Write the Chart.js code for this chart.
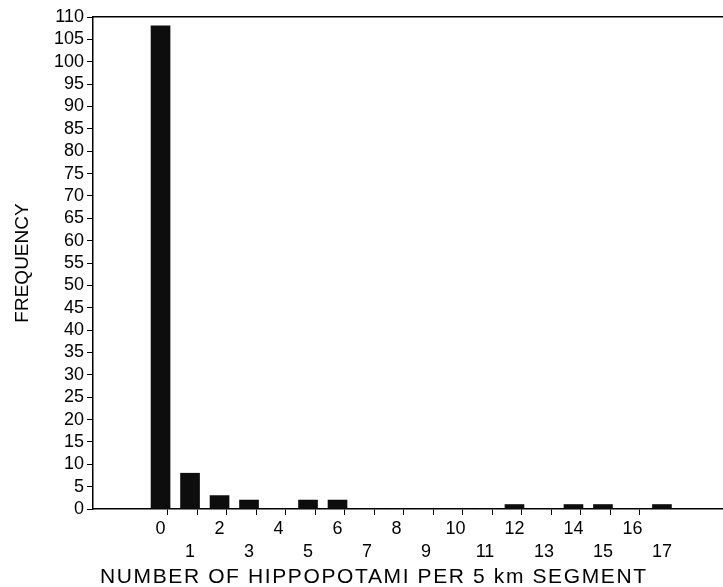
<!DOCTYPE html>
<html>
<head>
<meta charset="utf-8">
<script src="https://cdn.jsdelivr.net/npm/chart.js@4.4.0/dist/chart.umd.min.js"></script>
<style>
  html, body { margin: 0; padding: 0; background: #fff; }
  #wrap { width: 723px; height: 587px; }
</style>
</head>
<body>
<div id="wrap"><canvas id="myChart" width="723" height="587"></canvas></div>
<script>
var counts = [0, 1, 2, 3, 4, 5, 6, 7, 8, 9, 10, 11, 12, 13, 14, 15, 16, 17]
var frequency = [108, 8, 3, 2, 0, 2, 2, 0, 0, 0, 0, 0, 1, 0, 1, 1, 0, 1]
var yTicks = [0, 5, 10, 15, 20, 25, 30, 35, 40, 45, 50, 55, 60, 65, 70, 75, 80, 85, 90, 95, 100, 105, 110]
var xTitle = 'NUMBER OF HIPPOPOTAMI PER 5 km SEGMENT'
var yTitle = 'FREQUENCY'

var fontFam = "'Liberation Sans', Arial, sans-serif"

var points = counts.map(function(c, i){ return {x: c, y: frequency[i]} })

// x axis title drawn a bit wider than the plain font, like the original print
var xTitlePlugin = {
    id: 'xTitle',
    afterDraw: function(chart){
        var c = chart.ctx
        c.save()
        c.font = '21px ' + fontFam
        c.fillStyle = '#000'
        c.textBaseline = 'alphabetic'
        c.textAlign = 'left'
        var w0 = c.measureText(xTitle).width
        var sp = (546 - w0) / (xTitle.length - 1)
        if ('letterSpacing' in c) c.letterSpacing = sp + 'px'
        c.fillText(xTitle, 100, 583)
        c.restore()
    }
}

function setChart(){
    var ctx = document.getElementById('myChart');
    var myChart = new Chart(ctx, {
    type: 'bar',
    data: {
        datasets: [{
            data: points,
            backgroundColor: '#0d0d0d',
            borderWidth: 0,
            barThickness: 19,
        }],
    },
    plugins: [xTitlePlugin],
    options: {
        responsive: false,
        animation: false,
        layout: { padding: { top: 17, right: 0, left: 0, bottom: 0 } },
        plugins: {
            legend: { display: false },
            tooltip: { enabled: false },
        },
        scales: {
            x: {
                type: 'linear',
                offset: false,
                min: -2.29,
                max: 19.07,
                afterBuildTicks: function(scale){
                    var t = []
                    counts.forEach(function(c){
                        t.push({value: c})
                        if (c < 17) t.push({value: c + 0.5})
                    })
                    scale.ticks = t
                },
                afterFit: function(scale){ scale.height = 78 },
                ticks: {
                    autoSkip: false,
                    maxRotation: 0,
                    minRotation: 0,
                    padding: 2,
                    color: '#000',
                    font: { family: fontFam, size: 18, lineHeight: 1.3 },
                    callback: function(v){
                        if (v % 1 !== 0) return ''
                        return v % 2 === 0 ? [String(v)] : ['', String(v)]
                    }
                },
                grid: {
                    drawOnChartArea: false,
                    tickLength: 6,
                    color: function(c){
                        return (c.tick && c.tick.value % 1 !== 0) ? '#000' : 'rgba(0,0,0,0)'
                    },
                },
                border: { display: true, color: '#000', width: 1.5 },
                title: { display: false },
            },
            x2: {
                type: 'linear',
                position: 'top',
                offset: false,
                min: -2.29,
                max: 19.07,
                ticks: { display: false },
                grid: { display: false },
                border: { display: true, color: '#000', width: 1.5 },
                afterFit: function(scale){ scale.height = 0 },
            },
            y: {
                min: 0,
                max: 110,
                afterBuildTicks: function(scale){
                    scale.ticks = yTicks.map(function(v){ return {value: v} })
                },
                afterFit: function(scale){ scale.width = 93 },
                ticks: {
                    autoSkip: false,
                    padding: 3,
                    color: '#000',
                    font: { family: fontFam, size: 18 },
                },
                grid: {
                    drawOnChartArea: false,
                    tickLength: 6,
                    color: '#000',
                },
                border: { display: true, color: '#000', width: 1.5 },
                title: {
                    display: true,
                    text: yTitle,
                    color: '#000',
                    font: { family: fontFam, size: 19 },
                    padding: { top: 11, bottom: 0 },
                },
            },
        },
    },
    });
}
setChart()
</script>
</body>
</html>
